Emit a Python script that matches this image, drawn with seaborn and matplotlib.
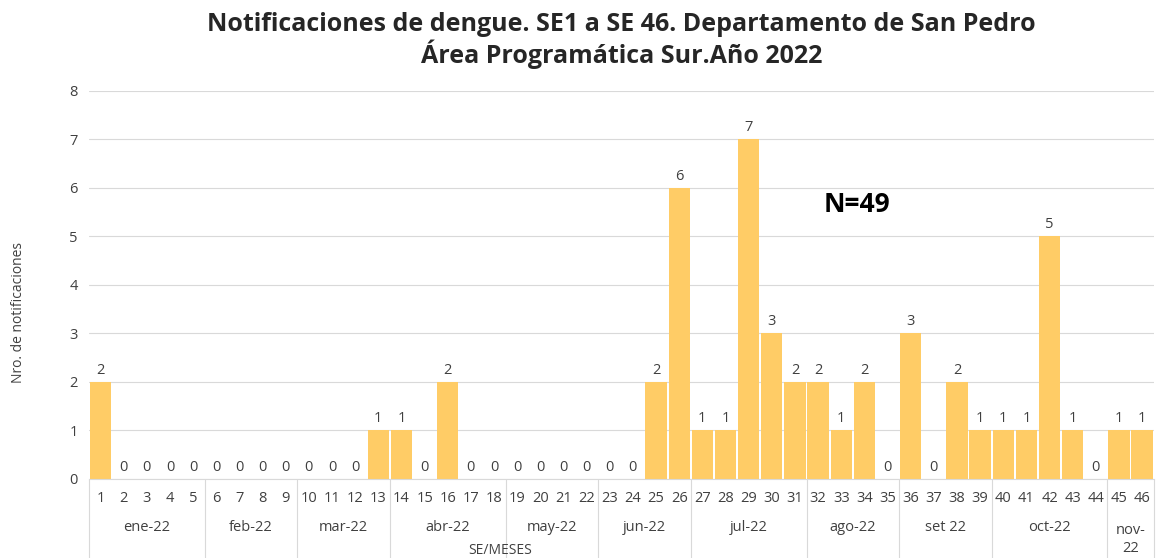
import pandas as pd
import matplotlib.pyplot as plt
import seaborn as sns

semanas = list(range(1, 47))
notificaciones = [2, 0, 0, 0, 0, 0, 0, 0, 0, 0, 0, 0, 1, 1, 0, 2, 0, 0, 0, 0,
                  0, 0, 0, 0, 2, 6, 1, 1, 7, 3, 2, 2, 1, 2, 0, 3, 0, 2, 1, 1,
                  1, 5, 1, 0, 1, 1]
meses = ["ene-22", "feb-22", "mar-22", "abr-22", "may-22", "jun-22",
         "jul-22", "ago-22", "set 22", "oct-22", "nov-\n22"]
semanas_por_mes = [5, 4, 4, 5, 4, 4, 5, 4, 4, 5, 2]

df = pd.DataFrame({"SE": [str(s) for s in semanas], "n": notificaciones})

sns.set_style("white")
plt.rcParams['font.family'] = ['Open Sans', 'DejaVu Sans']

fig = plt.figure(figsize=(11.56, 5.58), dpi=100)
ax = fig.add_axes([0.077, 0.1416, 0.921, 0.6955])

sns.barplot(data=df, x="SE", y="n", color="#FFCC66", saturation=1,
            width=0.92, linewidth=0, ax=ax)
ax.bar_label(ax.containers[0], fontsize=10.5, color="#404040", padding=3)

ax.set_ylim(0, 8)
ax.set_xlim(-0.5, len(semanas) - 0.5)
ax.set_yticks(range(0, 9))
ax.yaxis.grid(True, color="#d9d9d9", linewidth=0.8)
ax.set_axisbelow(True)
for s in ["top", "right", "left"]:
    ax.spines[s].set_visible(False)
ax.spines["bottom"].set_color("#d9d9d9")
ax.tick_params(axis="both", length=0, labelsize=10.5, colors="#404040", pad=8)
ax.tick_params(axis="x", pad=9)
ax.set_xlabel("")
ax.set_ylabel("Nro. de notificaciones", fontsize=10, color="#404040")
ax.yaxis.set_label_coords(-0.059, 0.43)

# separadores y etiquetas de meses
trans = ax.get_xaxis_transform()
inicio = -0.5
ax.plot([inicio, inicio], [0, -0.205], transform=trans, color="#d9d9d9",
        linewidth=0.8, clip_on=False)
for mes, k in zip(meses, semanas_por_mes):
    fin = inicio + k
    ax.plot([fin, fin], [0, -0.205], transform=trans, color="#d9d9d9",
            linewidth=0.8, clip_on=False)
    y = -0.125 if "\n" not in mes else -0.155
    ax.text((inicio + fin) / 2, y, mes, transform=trans, ha="center",
            va="center", fontsize=10.5, color="#404040", linespacing=1.25)
    inicio = fin

ax.text(0.386, -0.183, "SE/MESES", transform=ax.transAxes, ha="center",
        va="center", fontsize=10, color="#404040")

ax.text(32.7, 5.65, "N=49", ha="center", va="center", fontsize=19,
        fontweight="bold", color="black")

fig.suptitle("Notificaciones de dengue. SE1 a SE 46. Departamento de San Pedro\n"
             "Área Programática Sur.Año 2022", fontsize=18, fontweight="bold",
             x=0.5375, y=0.978, linespacing=1.1)

fig.savefig("out.png", dpi=100)
